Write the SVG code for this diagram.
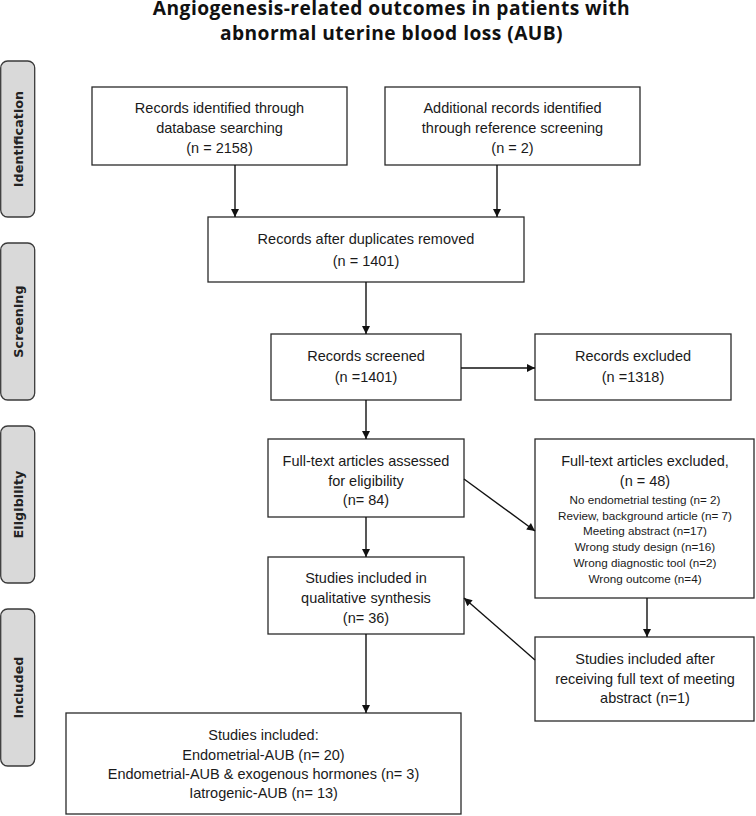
<svg xmlns="http://www.w3.org/2000/svg" width="756" height="816" viewBox="0 0 756 816">
<style>
.title{font-family:"Open Sans","Liberation Sans",sans-serif;font-weight:bold;font-size:19.2px;letter-spacing:0.45px;fill:#111;text-anchor:middle}
.tab rect{fill:#d9d9d9;stroke:#3a3a3a;stroke-width:1.3}
.tab text{font-family:"DejaVu Sans","Liberation Sans",sans-serif;font-weight:bold;font-size:12.8px;fill:#222;text-anchor:middle;dominant-baseline:central}
.box rect{fill:#fff;stroke:#2a2a2a;stroke-width:1.3}
.box text{font-family:"Liberation Sans",Arial,sans-serif;font-size:14.5px;fill:#1a1a1a;text-anchor:middle;dominant-baseline:central}
.box text.s{font-size:11.7px}
.conn line{stroke:#111;stroke-width:1.4;fill:none;marker-end:url(#ah)}
</style>
<defs>
<marker id="ah" viewBox="0 0 10 10" refX="10" refY="5" markerUnits="userSpaceOnUse" markerWidth="9" markerHeight="8" orient="auto">
<path d="M0,0 L10,5 L0,10 z" fill="#111"/>
</marker>
</defs>
<rect width="756" height="816" fill="#fff"/>
<text class="title" x="391.5" y="15">Angiogenesis-related outcomes in patients with</text>
<text class="title" x="391.5" y="39.5">abnormal uterine blood loss (AUB)</text>

<g id="tab-identification" class="tab"><rect x="0.7" y="61" width="34" height="156" rx="7"/><text transform="translate(18,139) rotate(-90)">Identification</text></g>
<g id="tab-screening" class="tab"><rect x="0.7" y="243" width="34" height="157" rx="7"/><text transform="translate(18,321.5) rotate(-90)">Screening</text></g>
<g id="tab-eligibility" class="tab"><rect x="0.7" y="426" width="34" height="157" rx="7"/><text transform="translate(18,504.5) rotate(-90)">Eligibility</text></g>
<g id="tab-included" class="tab"><rect x="0.7" y="609" width="34" height="157" rx="7"/><text transform="translate(18,687.5) rotate(-90)">Included</text></g>

<g id="records-identified" class="box"><rect x="92" y="87" width="255" height="78"/>
<text x="219.5" y="108">Records identified through</text><text x="219.5" y="128">database searching</text><text x="219.5" y="148">(n = 2158)</text></g>
<g id="additional-records" class="box"><rect x="385" y="87" width="255" height="78"/>
<text x="512.5" y="108">Additional records identified</text><text x="512.5" y="128">through reference screening</text><text x="512.5" y="148">(n = 2)</text></g>
<g id="after-duplicates" class="box"><rect x="208" y="217" width="316" height="65"/>
<text x="366" y="239">Records after duplicates removed</text><text x="366" y="261">(n = 1401)</text></g>
<g id="records-screened" class="box"><rect x="271" y="334" width="190" height="66"/>
<text x="366" y="356">Records screened</text><text x="366" y="377">(n =1401)</text></g>
<g id="records-excluded" class="box"><rect x="535" y="334" width="196" height="66"/>
<text x="633" y="356">Records excluded</text><text x="633" y="377">(n =1318)</text></g>
<g id="fulltext-assessed" class="box"><rect x="268" y="439" width="196" height="78"/>
<text x="366" y="461">Full-text articles assessed</text><text x="366" y="481">for eligibility</text><text x="366" y="500">(n= 84)</text></g>
<g id="fulltext-excluded" class="box"><rect x="535" y="439" width="219" height="159"/>
<text x="645" y="461">Full-text articles excluded,</text><text x="645" y="481">(n = 48)</text>
<text class="s" x="645" y="499">No endometrial testing (n= 2)</text>
<text class="s" x="645" y="515">Review, background article (n= 7)</text>
<text class="s" x="645" y="530">Meeting abstract (n=17)</text>
<text class="s" x="645" y="546">Wrong study design (n=16)</text>
<text class="s" x="645" y="562">Wrong diagnostic tool (n=2)</text>
<text class="s" x="645" y="578">Wrong outcome (n=4)</text></g>
<g id="qualitative-synthesis" class="box"><rect x="268" y="557" width="196" height="77"/>
<text x="366" y="578">Studies included in</text><text x="366" y="598">qualitative synthesis</text><text x="366" y="618">(n= 36)</text></g>
<g id="after-full-text" class="box"><rect x="535" y="637" width="219" height="84"/>
<text x="645" y="659">Studies included after</text><text x="645" y="679">receiving full text of meeting</text><text x="645" y="698">abstract (n=1)</text></g>
<g id="studies-included" class="box"><rect x="66" y="713" width="395" height="101"/>
<text x="263.5" y="735">Studies included:</text><text x="263.5" y="755">Endometrial-AUB (n= 20)</text><text x="263.5" y="774">Endometrial-AUB &amp; exogenous hormones (n= 3)</text><text x="263.5" y="793">Iatrogenic-AUB (n= 13)</text></g>

<g id="connectors" class="conn">
<line x1="235" y1="165" x2="235" y2="217"/>
<line x1="497" y1="165" x2="497" y2="217"/>
<line x1="366" y1="282" x2="366" y2="334"/>
<line x1="461" y1="368" x2="535" y2="368"/>
<line x1="366" y1="400" x2="366" y2="439"/>
<line x1="464" y1="479" x2="535" y2="531"/>
<line x1="366" y1="517" x2="366" y2="557"/>
<line x1="647" y1="598" x2="647" y2="637"/>
<line x1="535" y1="660" x2="464" y2="598"/>
<line x1="366" y1="634" x2="366" y2="713"/>
</g>
</svg>
